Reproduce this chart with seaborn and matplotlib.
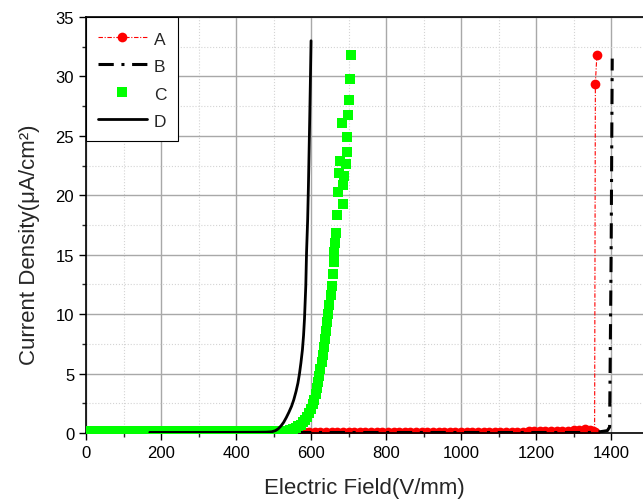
import matplotlib
matplotlib.use("Agg")
import matplotlib.pyplot as plt
from matplotlib.ticker import MultipleLocator
import seaborn as sns

# --- data ---
a_field = [580, 595, 610, 625, 640, 655, 670, 685, 700, 715, 730, 745, 760,
           775, 790, 805, 820, 835, 850, 865, 880, 895, 910, 925, 940, 955,
           970, 985, 1000, 1015, 1030, 1045, 1060, 1075, 1090, 1105, 1120,
           1135, 1150, 1165, 1180, 1195, 1210, 1225, 1240, 1255, 1270, 1285,
           1300, 1315, 1330, 1345, 1352, 1356, 1358, 1362]
a_current = [0.06, 0.06, 0.06, 0.06, 0.06, 0.06, 0.06, 0.06, 0.06, 0.06, 0.06,
             0.06, 0.06, 0.06, 0.06, 0.06, 0.06, 0.06, 0.06, 0.06, 0.06, 0.06,
             0.06, 0.06, 0.06, 0.06, 0.06, 0.06, 0.07, 0.07, 0.08, 0.08, 0.09,
             0.09, 0.1, 0.1, 0.11, 0.11, 0.12, 0.12, 0.13, 0.14, 0.15, 0.16,
             0.17, 0.18, 0.19, 0.21, 0.23, 0.27, 0.31, 0.29, 0.15, 0.05, 29.4,
             31.8]

b_field = [560, 590, 620, 650, 680, 710, 740, 770, 800, 830, 860, 890, 920,
           950, 980, 1010, 1040, 1070, 1100, 1130, 1160, 1190, 1220, 1250,
           1280, 1310, 1340, 1365, 1380, 1390, 1396, 1400, 1403]
b_current = [0.04, 0.04, 0.04, 0.04, 0.04, 0.04, 0.04, 0.04, 0.04, 0.04, 0.04,
             0.04, 0.04, 0.04, 0.04, 0.04, 0.04, 0.04, 0.04, 0.04, 0.04, 0.04,
             0.04, 0.04, 0.04, 0.04, 0.04, 0.08, 0.15, 0.2, 0.5, 15.0, 31.5]

c_field = [0, 15, 30, 45, 60, 75, 90, 105, 120, 135, 150, 165, 180, 195, 210,
           225, 240, 255, 270, 285, 300, 315, 330, 345, 360, 375, 390, 405,
           420, 435, 450, 465, 480, 495, 510, 525, 535, 545, 552, 559, 566,
           572, 578, 584, 590, 595, 600, 604, 608, 612, 616, 619, 622, 625,
           628, 631, 634, 637, 640, 643, 646, 649, 652, 655, 657.5, 660, 662,
           664, 666, 668.4, 672.9, 674.7, 677, 681.8, 686, 686, 688.9, 693,
           695, 697, 699.6, 701.3, 704, 706.7]
c_current = [0.15, 0.15, 0.15, 0.15, 0.15, 0.15, 0.15, 0.15, 0.15, 0.15, 0.15,
             0.15, 0.15, 0.15, 0.15, 0.15, 0.15, 0.15, 0.15, 0.15, 0.15, 0.15,
             0.15, 0.15, 0.15, 0.15, 0.15, 0.15, 0.15, 0.15, 0.15, 0.15, 0.15,
             0.15, 0.15, 0.15, 0.17, 0.25, 0.32, 0.42, 0.55, 0.7, 0.9, 1.1,
             1.35, 1.65, 2.0, 2.4, 2.8, 3.3, 3.8, 4.3, 4.8, 5.4, 6.0, 6.6, 7.2,
             7.9, 8.6, 9.3, 10.0, 10.8, 11.6, 12.4, 13.4, 14.4, 15.2, 16.0,
             16.8, 18.3, 20.25, 21.9, 22.9, 26.1, 19.3, 20.9, 21.6, 22.6, 23.6,
             24.9, 26.75, 28.0, 29.8, 31.8]

d_field = [170, 250, 350, 450, 480, 495, 505, 512, 520, 527, 534, 541, 548,
           554, 560, 565, 569, 573, 577, 580, 582.5, 586, 588, 591, 593,
           594.7, 596.4, 598, 600]
d_current = [0.05, 0.05, 0.05, 0.06, 0.07, 0.1, 0.2, 0.34, 0.6, 0.9, 1.3,
             1.75, 2.25, 2.8, 3.5, 4.2, 4.96, 5.9, 7.0, 8.2, 9.6, 12.4, 15.2,
             18.0, 20.8, 23.6, 26.4, 29.2, 33.0]

sns.set_style("ticks")
plt.rcParams['font.family'] = ['Liberation Sans', 'DejaVu Sans']

fig = plt.figure(figsize=(6.43, 5.02), dpi=100)
ax = fig.add_axes([86 / 643, 68 / 502, 557 / 643, 416 / 502])

sns.lineplot(x=a_field, y=a_current, ax=ax, sort=False, estimator=None,
             color="#ff0000", linewidth=0.8, marker="o", markersize=7,
             markeredgewidth=0, label="A")
ax.lines[-1].set_dashes((4, 1.5, 1, 1.5))
sns.lineplot(x=b_field, y=b_current, ax=ax, sort=False, estimator=None,
             color="black", linewidth=2.2, label="B")
ax.lines[-1].set_dashes((5, 2.5, 1, 2.5))
sns.scatterplot(x=c_field, y=c_current, ax=ax, color="#00ff00", marker="s",
                s=42, linewidth=0, label="C", zorder=3)
sns.lineplot(x=d_field, y=d_current, ax=ax, sort=False, estimator=None,
             color="black", linewidth=2.0, label="D", zorder=4)

ax.set_xlim(0, 1485)
ax.set_ylim(0, 35)
ax.xaxis.set_major_locator(MultipleLocator(200))
ax.xaxis.set_minor_locator(MultipleLocator(100))
ax.yaxis.set_major_locator(MultipleLocator(5))
ax.yaxis.set_minor_locator(MultipleLocator(2.5))
ax.grid(which="major", color="#a8a8a8", linewidth=1.0, linestyle="-")
ax.grid(which="minor", color="#d4d4d4", linewidth=0.8, linestyle=":")
ax.set_axisbelow(True)

ax.tick_params(which="major", direction="out", length=5, width=1,
               labelsize=12, colors="black", top=False, right=False)
ax.tick_params(which="minor", direction="out", length=3, width=1,
               top=False, right=False)
for side in ["left", "bottom", "top"]:
    ax.spines[side].set_color("black")
    ax.spines[side].set_linewidth(1.2)
ax.spines["right"].set_visible(False)

ax.set_xlabel("Electric Field(V/mm)", fontsize=16)
ax.set_ylabel("Current Density(μA/cm²)", fontsize=16)
ax.xaxis.set_label_coords(0.5, -0.106)
ax.yaxis.set_label_coords(-0.083, 0.454)

leg = ax.legend(loc="upper left", borderaxespad=0, fontsize=12.5,
                handlelength=2.8, handleheight=1.2, handletextpad=0.4,
                labelspacing=0.55, fancybox=False, framealpha=1,
                edgecolor="black", borderpad=0.7)
leg.get_frame().set_linewidth(0.8)

fig.savefig("out.png", dpi=100)
